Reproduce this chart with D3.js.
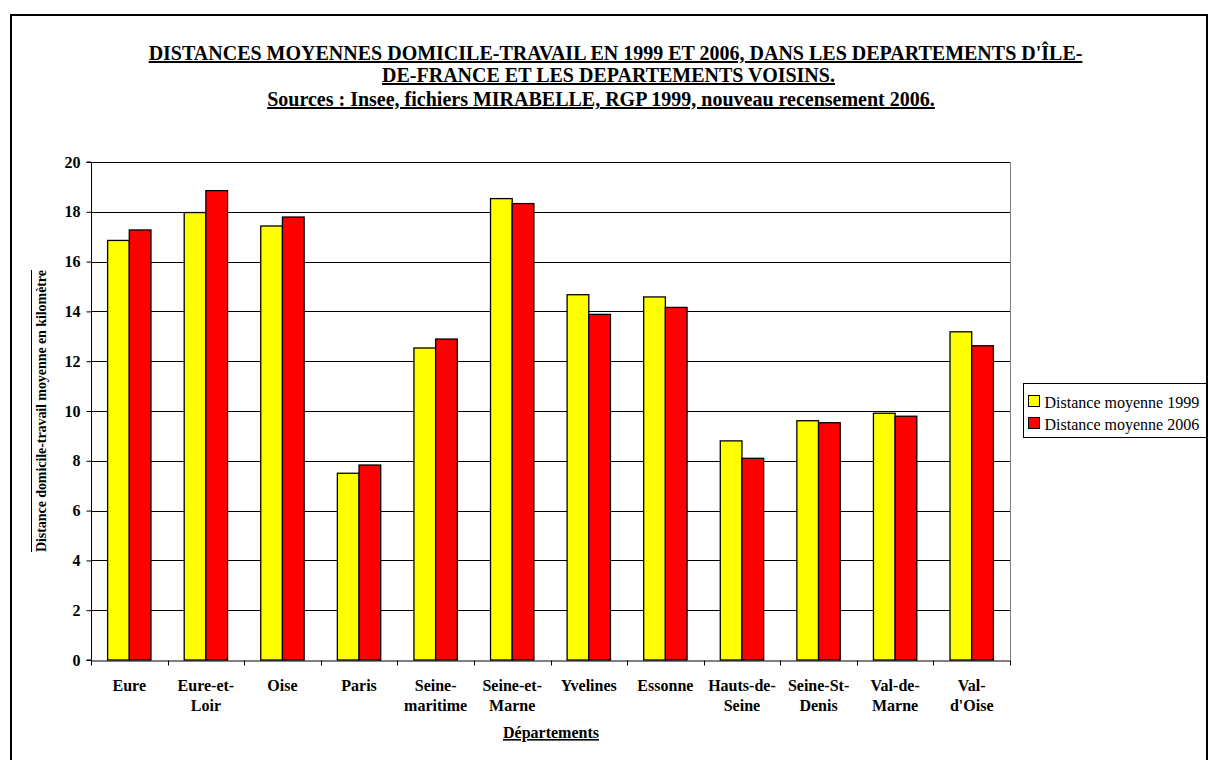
<!DOCTYPE html>
<html>
<head>
<meta charset="utf-8">
<script src="https://cdn.jsdelivr.net/npm/d3@7"></script>
<style>
  body { margin: 0; background: #fff; }
  svg { display: block; font-family: "Liberation Serif", "Times New Roman", serif; }
</style>
</head>
<body>
<svg id="chart" width="1209" height="760"></svg>
<script>
const departements = [
  ["Eure"], ["Eure-et-", "Loir"], ["Oise"], ["Paris"], ["Seine-", "maritime"],
  ["Seine-et-", "Marne"], ["Yvelines"], ["Essonne"], ["Hauts-de-", "Seine"],
  ["Seine-St-", "Denis"], ["Val-de-", "Marne"], ["Val-", "d'Oise"]
]
const dist1999 = [16.85, 17.97, 17.43, 7.5, 12.53, 18.53, 14.67, 14.58, 8.8, 9.61, 9.91, 13.18]
const dist2006 = [17.27, 18.85, 17.79, 7.83, 12.89, 18.33, 13.88, 14.16, 8.1, 9.53, 9.79, 12.62]
const series = ["Distance moyenne 1999", "Distance moyenne 2006"]
const colors = ["#ffff00", "#ff0000"]
const yTicks = [0, 2, 4, 6, 8, 10, 12, 14, 16, 18, 20]

const marginLeft = 91, marginRight = 1010, marginTop = 162, marginBottom = 660

const svg = d3.select("#chart")

// outer frame (bottom edge falls outside the picture)
svg.append("rect")
  .attr("x", 11).attr("y", 15).attr("width", 1196).attr("height", 760)
  .attr("fill", "none").attr("stroke", "#000").attr("stroke-width", 2)

const names = departements.map(d => d.join(""))
const x = d3.scaleBand().domain(names).range([marginLeft, marginRight])
const xInner = d3.scaleBand().domain([0, 1]).range([0, x.bandwidth()]).paddingInner(0).paddingOuter(0.766)
const y = d3.scaleLinear().domain([0, 20]).range([marginBottom, marginTop])

// gridlines
svg.append("g").selectAll("line")
  .data(yTicks.filter(t => t > 0))
  .join("line")
  .attr("x1", marginLeft).attr("x2", marginRight)
  .attr("y1", d => Math.round(y(d)) + 0.5).attr("y2", d => Math.round(y(d)) + 0.5)
  .attr("stroke", "#000").attr("stroke-width", 1)

// right border of plot area
svg.append("line")
  .attr("x1", marginRight + 0.5).attr("x2", marginRight + 0.5)
  .attr("y1", marginTop).attr("y2", marginBottom)
  .attr("stroke", "#808080")

// bars
const groups = svg.append("g").selectAll("g")
  .data(names)
  .join("g")
  .attr("transform", d => `translate(${x(d)},0)`)

groups.selectAll("rect")
  .data((d, i) => [dist1999[i], dist2006[i]])
  .join("rect")
  .attr("x", (d, j) => xInner(j))
  .attr("width", xInner.bandwidth())
  .attr("y", d => y(d))
  .attr("height", d => y(0) - y(d))
  .attr("fill", (d, j) => colors[j])
  .attr("stroke", "#000").attr("stroke-width", 1.3)

// y axis
const yAxis = svg.append("g")
  .attr("transform", `translate(${marginLeft + 0.5},0)`)
  .call(d3.axisLeft(y).tickValues(yTicks).tickSize(5).tickPadding(6))
yAxis.selectAll("path, line").attr("stroke", "#000")
yAxis.select(".domain").attr("d", `M-5,${marginTop}H0V${marginBottom}H-5`)
yAxis.selectAll("text")
  .attr("font-family", "Liberation Serif").attr("font-weight", "bold")
  .attr("font-size", 16).attr("fill", "#000")

// x axis
const xAxis = svg.append("g")
  .attr("transform", `translate(0,${marginBottom + 0.5})`)
  .call(d3.axisBottom(x).tickValues([]).tickSizeOuter(0))
xAxis.select(".domain").attr("stroke", "#000")
xAxis.selectAll(".sep")
  .data(d3.range(names.length + 1))
  .join("line")
  .attr("class", "sep")
  .attr("x1", i => Math.round(marginLeft + i * x.step()) + 0.5)
  .attr("x2", i => Math.round(marginLeft + i * x.step()) + 0.5)
  .attr("y1", 0).attr("y2", 5)
  .attr("stroke", "#000")

const labels = svg.append("g").selectAll("text")
  .data(departements)
  .join("text")
  .attr("x", (d, i) => x(names[i]) + x.bandwidth() / 2)
  .attr("y", 691)
  .attr("text-anchor", "middle")
  .attr("font-weight", "bold").attr("font-size", 16)
labels.selectAll("tspan")
  .data(d => d)
  .join("tspan")
  .attr("x", function() { return this.parentNode.getAttribute("x") })
  .attr("dy", (d, i) => i === 0 ? 0 : 20)
  .text(d => d)

// x axis title
svg.append("text")
  .attr("x", 551).attr("y", 738)
  .attr("text-anchor", "middle")
  .attr("font-weight", "bold").attr("font-size", 16)
  .attr("text-decoration", "underline")
  .text("Départements")

// y axis title
svg.append("text")
  .attr("transform", `translate(46,${(marginTop + marginBottom) / 2}) rotate(-90)`)
  .attr("text-anchor", "middle")
  .attr("font-weight", "bold").attr("font-size", 14)
  .attr("textLength", 282)
  .text("Distance domicile-travail moyenne en kilomètre")
svg.append("line")
  .attr("x1", 31.5).attr("x2", 31.5)
  .attr("y1", 270).attr("y2", 552)
  .attr("stroke", "#000").attr("stroke-width", 1)

// title
const titleLines = [
  "DISTANCES MOYENNES DOMICILE-TRAVAIL EN 1999 ET 2006, DANS LES DEPARTEMENTS D'ÎLE-",
  "DE-FRANCE ET LES DEPARTEMENTS VOISINS.",
  "Sources : Insee, fichiers MIRABELLE, RGP 1999, nouveau recensement 2006."
]
const titleCenter = [615.5, 608.5, 601]
svg.append("g").selectAll("text")
  .data(titleLines)
  .join("text")
  .attr("x", (d, i) => titleCenter[i])
  .attr("y", (d, i) => [60, 82, 106][i])
  .attr("text-anchor", "middle")
  .attr("font-weight", "bold").attr("font-size", 20)
  .attr("text-decoration", "underline")
  .text(d => d)

// legend
const legend = svg.append("g").attr("transform", "translate(1023,383)")
legend.append("rect")
  .attr("x", 0.5).attr("y", 0.5).attr("width", 183).attr("height", 54)
  .attr("fill", "#fff").attr("stroke", "#000")
const items = legend.selectAll("g")
  .data(series)
  .join("g")
  .attr("transform", (d, i) => `translate(5.5,${12.5 + i * 22})`)
items.append("rect")
  .attr("width", 11).attr("height", 11)
  .attr("fill", (d, i) => colors[i])
  .attr("stroke", "#000")
items.append("text")
  .attr("x", 16).attr("y", 12)
  .attr("font-size", 16)
  .text(d => d)
</script>
</body>
</html>
